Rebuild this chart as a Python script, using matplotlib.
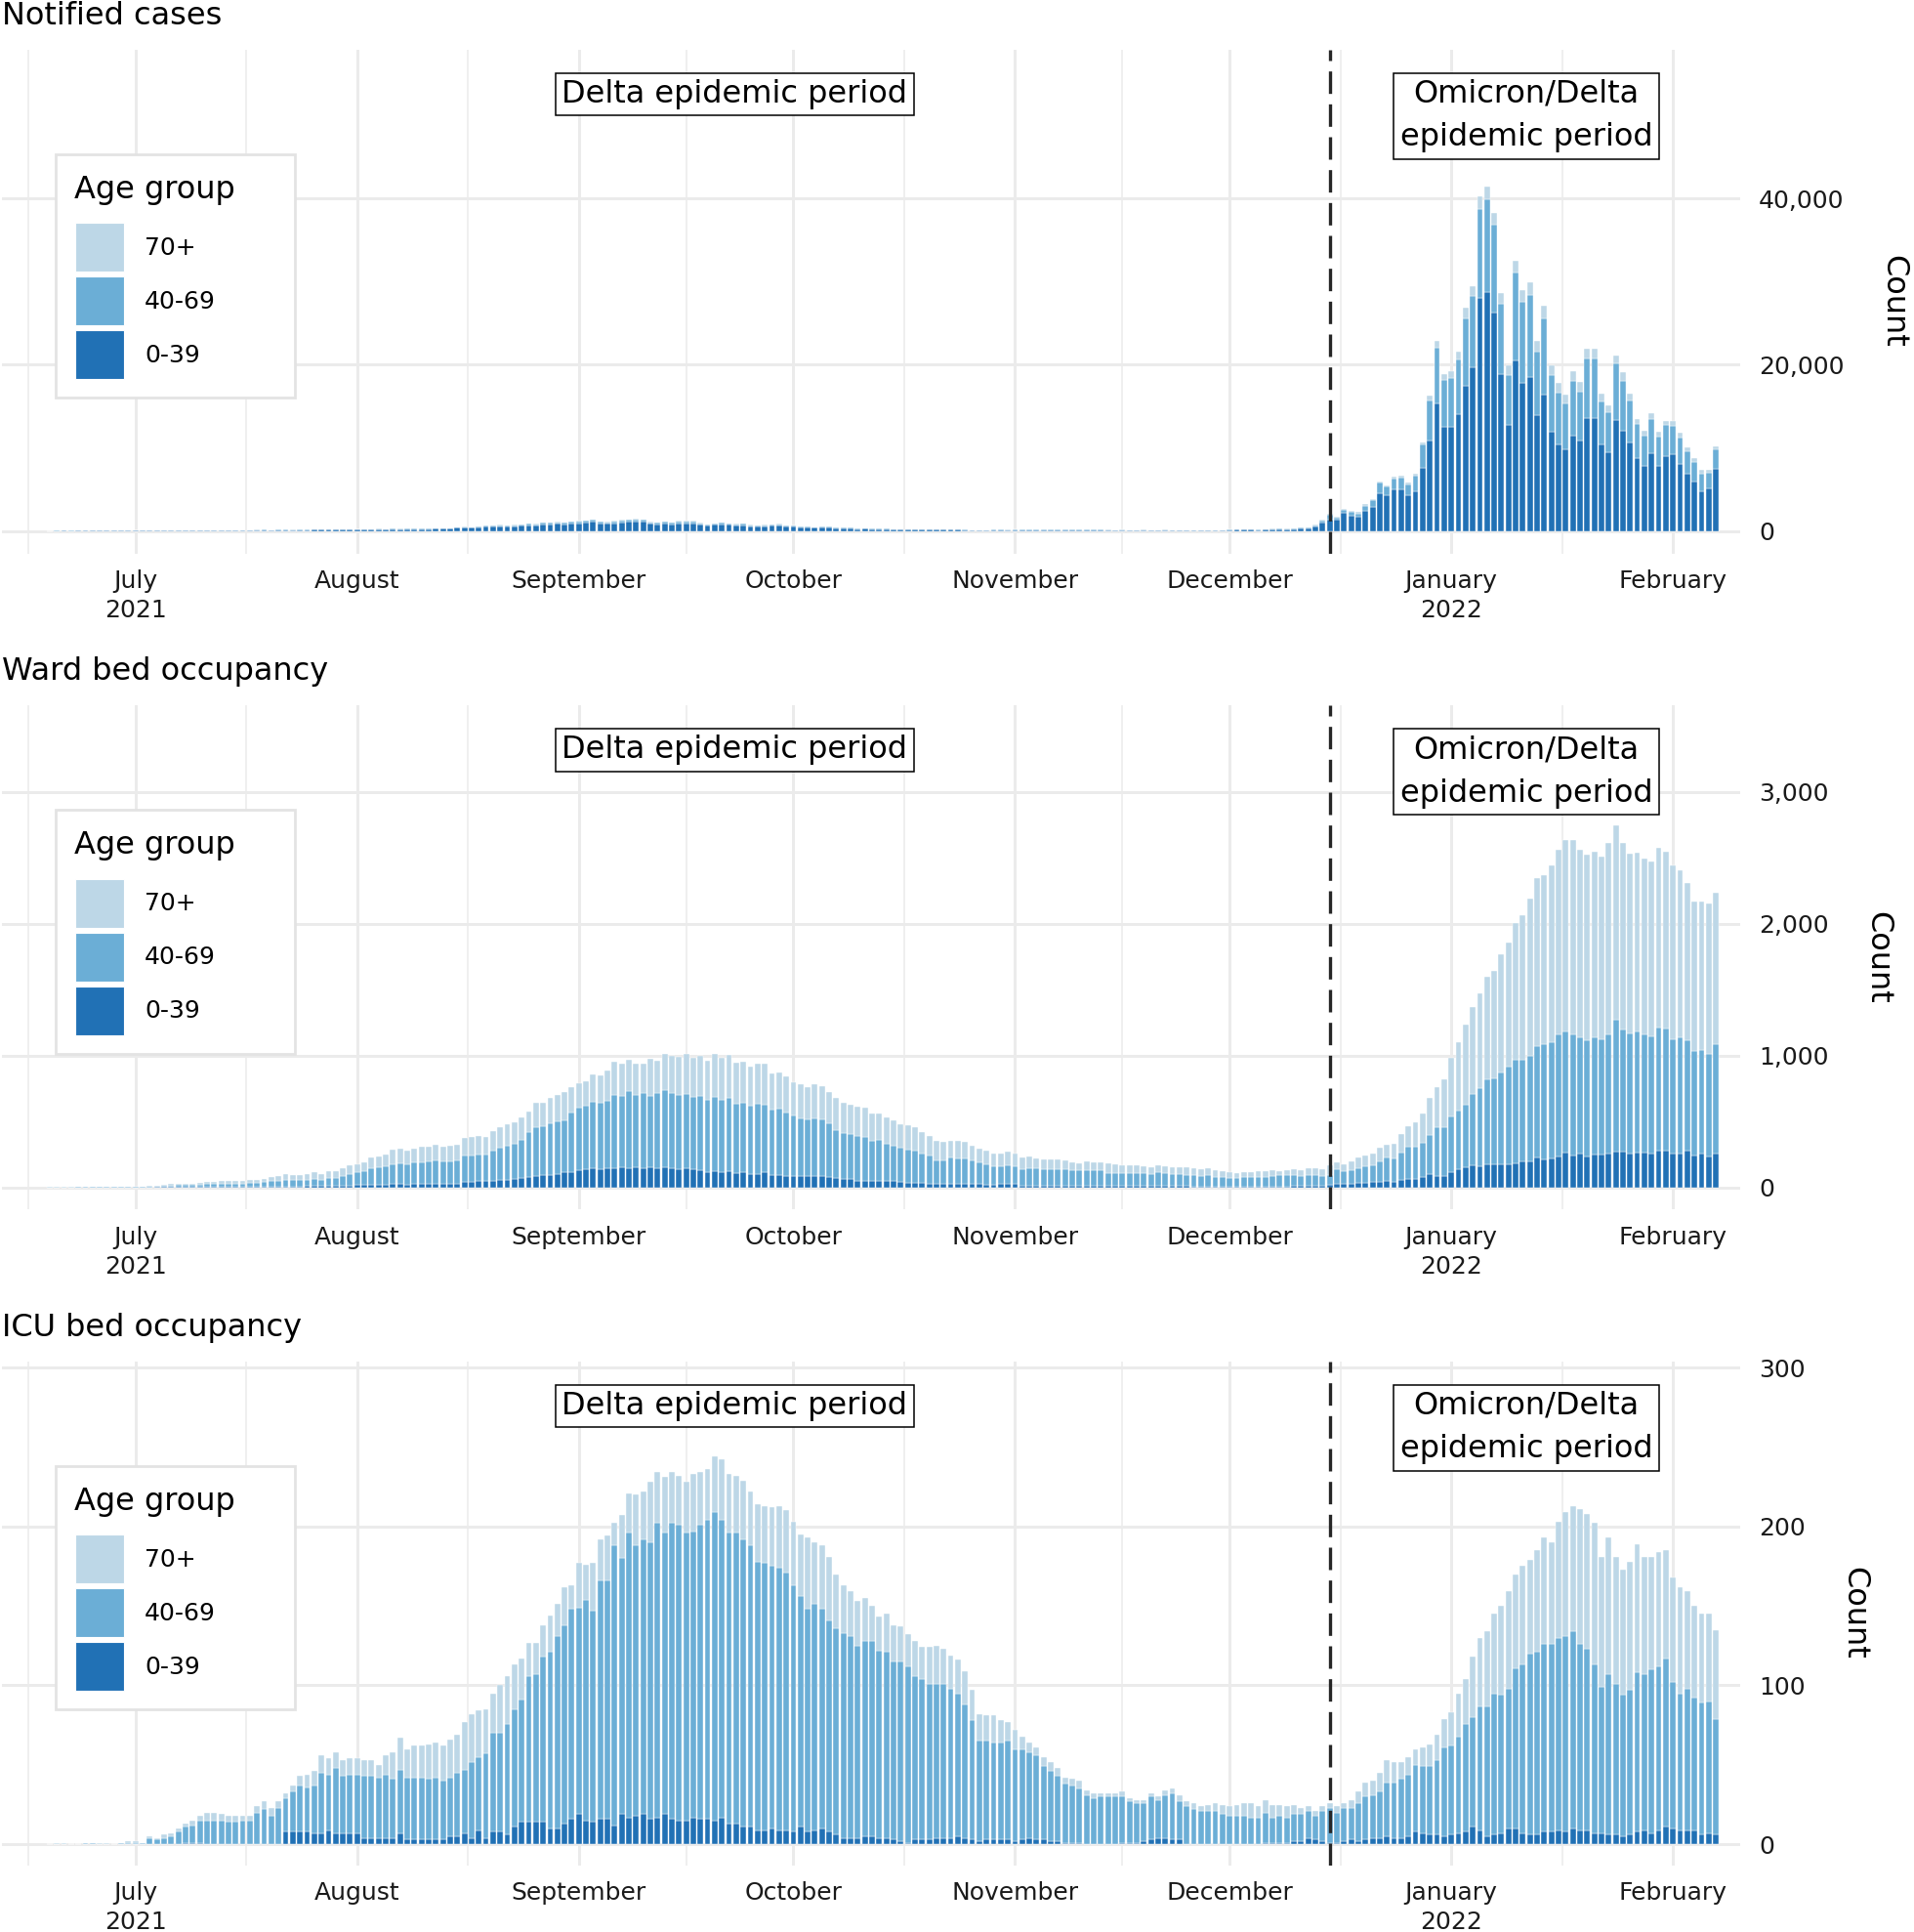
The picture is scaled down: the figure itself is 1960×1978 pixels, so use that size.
import numpy as np
import pandas as pd
import matplotlib
matplotlib.use("Agg")
import matplotlib.pyplot as plt
import matplotlib.dates as mdates
from matplotlib.patches import Patch, Rectangle
from matplotlib.transforms import blended_transform_factory

# ---------------- data ----------------
first_day = "2021-06-19"
last_day = "2022-02-07"
period_split = "2021-12-15"

age_groups = ["70+", "40-69", "0-39"]
group_colors = ["#BDD7E7", "#6BAED6", "#2171B5"]

month_ticks = ["2021-07-01", "2021-08-01", "2021-09-01", "2021-10-01", "2021-11-01",
               "2021-12-01", "2022-01-01", "2022-02-01"]
month_labels = ["July\n2021", "August", "September", "October", "November",
                "December", "January\n2022", "February"]

# --- Notified cases ---
notified_total = [
    10, 15, 20, 15, 25, 30, 20, 25, 30, 40, 30, 25,
    30, 35, 40, 45, 50, 45, 50, 60, 70,
    80, 90, 100, 90, 110, 100, 120, 110,
    130, 140, 120, 150, 140, 130, 160, 150, 170,
    200, 180, 170, 190, 210, 200,
    230, 240, 250, 240, 260, 250, 270,
    300, 310, 290, 320, 330, 350,
    470, 500,
    470, 550, 660, 660, 740, 660, 740, 820, 900, 860,
    1010, 1010, 1090, 1010, 1130, 1210, 1250, 1400, 1130, 1090,
    1210, 1330, 1370, 1450, 1370, 1090, 1050, 1130, 1050, 1210,
    1210, 1210, 970, 820, 940, 1010, 940, 860, 900, 740,
    700, 740, 820, 860, 700, 700, 550, 510, 470, 510,
    550, 430, 390, 390, 310, 350, 310, 310, 270, 230,
    190, 200, 230, 230, 200, 200, 220, 180, 170, 150,
    120, 100, 110, 140, 150, 130, 150, 160, 140, 150,
    160, 150, 140, 160, 150, 140, 150, 160, 150, 130,
    120, 130, 120, 120, 130, 110, 120, 130, 120, 100,
    110, 100, 90, 100, 110, 100, 160, 180, 170, 190,
    150, 220, 250, 260, 250, 260,
    470, 470, 750, 1330, 2040, 1720, 2700, 2420, 2270, 3200,
    3870, 5980, 5510, 6490, 6650, 5830, 6840, 10660, 16290, 22850,
    18820, 19220, 21520, 26840, 29460, 40200, 41400, 38210, 28560, 19880,
    32470, 28990, 29950, 22820, 27070, 19920, 17810, 16360, 19210, 17970,
    21870, 21950, 16480, 15110, 21100, 19110, 16560, 13510, 12060, 14140,
    11880, 13240, 13210, 11800, 10040, 8750, 7300, 7300, 10120,
]
notified_70plus = [
    1, 1, 2, 1, 2, 3, 2, 2, 3, 4, 3, 2,
    3, 3, 4, 4, 5, 4, 5, 5, 6,
    6, 7, 7, 6, 8, 7, 8, 7,
    8, 9, 7, 9, 8, 7, 9, 8, 9,
    10, 9, 8, 9, 10, 9,
    10, 10, 11, 10, 11, 10, 11,
    12, 13, 12, 13, 13, 14,
    19, 20,
    19, 22, 26, 26, 30, 26, 30, 33, 36, 34,
    40, 40, 44, 40, 45, 48, 50, 56, 45, 44,
    48, 53, 55, 58, 55, 44, 42, 45, 42, 48,
    48, 48, 39, 33, 38, 40, 38, 34, 36, 30,
    28, 30, 33, 34, 28, 28, 22, 20, 19, 20,
    22, 17, 16, 16, 12, 14, 12, 12, 11, 9,
    8, 8, 9, 9, 8, 8, 9, 7, 7, 6,
    5, 4, 4, 6, 6, 5, 6, 6, 6, 6,
    6, 6, 6, 6, 6, 6, 6, 6, 6, 5,
    5, 5, 5, 5, 5, 4, 5, 5, 5, 4,
    4, 4, 4, 4, 4, 4, 6, 7, 7, 8,
    6, 9, 10, 10, 10, 10,
    40, 40, 40, 120, 120, 160, 200, 160, 160, 160,
    200, 200, 200, 160, 200, 200, 200, 310, 590, 780,
    620, 820, 900, 1250, 1250, 1450, 1480, 1410, 1210, 1130,
    1410, 1450, 1520, 1250, 1480, 1210, 1210, 1050, 1130, 1170,
    1170, 1250, 860, 780, 980, 1020, 900, 660, 620, 700,
    550, 510, 550, 550, 470, 470, 390, 270, 350,
]
notified_0_39 = [
    7, 11, 15, 11, 19, 23, 15, 19, 23, 31, 23, 19,
    23, 27, 31, 35, 39, 35, 39, 47, 55,
    62, 70, 78, 70, 86, 78, 94, 86,
    101, 109, 94, 117, 109, 101, 125, 117, 133,
    156, 140, 133, 148, 164, 156,
    179, 187, 195, 187, 203, 195, 211,
    234, 242, 226, 250, 257, 273,
    367, 390,
    367, 429, 515, 515, 577, 515, 577, 640, 702, 671,
    788, 788, 850, 788, 881, 944, 975, 1092, 881, 850,
    944, 1037, 1069, 1131, 1069, 850, 819, 881, 819, 944,
    944, 944, 757, 640, 733, 788, 733, 671, 702, 577,
    546, 577, 640, 671, 546, 546, 429, 398, 367, 398,
    429, 335, 304, 304, 242, 273, 242, 242, 211, 179,
    148, 156, 179, 179, 156, 156, 172, 140, 133, 117,
    94, 78, 86, 109, 117, 101, 117, 125, 109, 117,
    125, 117, 109, 125, 117, 109, 117, 125, 117, 101,
    94, 101, 94, 94, 101, 86, 94, 101, 94, 78,
    86, 78, 70, 78, 86, 78, 125, 140, 133, 148,
    117, 172, 195, 203, 195, 203,
    350, 350, 590, 1050, 1330, 1330, 2150, 1870, 1720, 2420,
    2930, 4490, 4260, 4960, 5000, 4300, 4730, 7580, 10900, 15390,
    12540, 12540, 14100, 17500, 19690, 28010, 28750, 26250, 18870, 12730,
    20510, 17850, 18510, 13910, 16410, 11950, 10430, 9800, 11440, 10820,
    13630, 13630, 10350, 9490, 13320, 12070, 10660, 8710, 7770, 9300,
    7810, 9020, 9180, 8050, 6840, 5900, 4800, 5120, 7500,
]

# --- Ward bed occupancy ---
ward_total = [
    3, 3, 4, 4, 5, 5, 6, 6, 7, 8, 8, 9,
    10, 10, 12, 17, 22, 27, 32, 32, 32, 35, 42,
    45, 50, 52, 54, 54, 57, 59, 67, 84, 89,
    104, 99, 97, 106, 116, 106, 126, 126, 149, 171,
    178, 193, 230, 235, 250, 290, 299, 280, 299, 309,
    309, 324, 309, 314, 322, 374, 384, 389, 386, 428,
    455, 480, 495, 530, 579, 641, 644, 681, 700, 723,
    762, 792, 809, 859, 851, 889, 953, 938, 968, 943, 938, 980, 963,
    1017, 1002, 995, 1012, 983, 997, 965, 1017, 988, 1007,
    950, 953, 918, 938, 938, 866, 874, 842, 799, 782,
    762, 785, 767, 725, 681, 646, 631, 611, 606, 564,
    564, 530, 510, 478, 470, 455, 423, 394, 356, 344,
    356, 356, 344, 314, 295, 280, 257, 257, 270, 257,
    228, 235, 220, 213, 215, 213, 208, 188, 183, 198,
    193, 193, 181, 176, 168, 166, 168, 161, 158, 168,
    161, 158, 158, 153, 146, 141, 146, 129, 126, 114,
    111, 119, 121, 126, 124, 129, 124, 129, 141, 131, 146,
    148, 143, 168, 193, 178, 200, 227, 244, 262, 301,
    328, 333, 405, 467, 494, 560, 681, 760, 820, 983,
    1106, 1239, 1368, 1471, 1600, 1644, 1773, 1862, 2010, 2064,
    2192, 2348, 2370, 2444, 2563, 2634, 2634, 2560, 2523, 2546,
    2511, 2612, 2748, 2612, 2533, 2538, 2496, 2471, 2580, 2550,
    2442, 2405, 2313, 2173, 2168, 2153, 2239,
]
ward_70plus = [
    2, 2, 2, 2, 2, 2, 3, 3, 3, 3, 3, 4,
    4, 4, 5, 7, 9, 11, 13, 13, 13, 14, 17,
    18, 20, 21, 22, 22, 23, 24, 27, 34, 38,
    45, 43, 42, 46, 50, 45, 52, 52, 60, 65,
    62, 66, 80, 82, 90, 111, 112, 105, 110, 114,
    113, 118, 112, 114, 116, 134, 137, 139, 136, 151,
    155, 160, 160, 165, 161, 180, 178, 190, 200, 210,
    195, 186, 186, 210, 210, 228, 250, 243, 238, 238, 220, 285, 248,
    277, 287, 290, 304, 297, 302, 299, 327, 322, 327,
    314, 312, 297, 304, 307, 277, 277, 270, 252, 260,
    245, 257, 250, 240, 243, 233, 223, 218, 220, 210,
    205, 196, 191, 178, 181, 173, 161, 149, 146, 139,
    131, 136, 126, 111, 106, 101, 92, 92, 104, 97,
    87, 87, 72, 72, 74, 72, 69, 59, 54, 64,
    64, 62, 69, 64, 59, 57, 59, 54, 52, 54,
    54, 57, 57, 54, 52, 54, 52, 47, 45, 40,
    37, 42, 40, 45, 40, 42, 32, 37, 47, 40, 50,
    49, 54, 74, 54, 54, 64, 79, 84, 89, 101,
    96, 109, 141, 158, 183, 217, 281, 304, 360, 444,
    521, 610, 659, 716, 780, 815, 899, 948, 1039, 1094,
    1190, 1272, 1281, 1343, 1402, 1452, 1472, 1422, 1402, 1405,
    1388, 1447, 1476, 1412, 1365, 1355, 1333, 1321, 1365, 1346,
    1316, 1267, 1195, 1138, 1123, 1136, 1148,
]
ward_0_39 = [
    0, 0, 1, 1, 1, 1, 1, 1, 1, 2, 2, 2,
    2, 2, 2, 3, 3, 3, 4, 4, 4, 4, 5,
    5, 5, 5, 6, 6, 6, 6, 7, 7, 8,
    10, 10, 10, 11, 12, 11, 12, 12, 13, 14,
    18, 20, 22, 22, 24, 25, 25, 24, 25, 26,
    26, 27, 26, 27, 28, 40, 45, 50, 52, 54,
    56, 60, 62, 72, 80, 90, 92, 99, 105, 115,
    120, 134, 138, 145, 140, 146, 150, 152, 150, 151, 150, 155, 150,
    151, 146, 139, 146, 141, 131, 119, 124, 119, 124,
    109, 114, 104, 106, 114, 92, 92, 89, 89, 89,
    89, 89, 87, 79, 72, 62, 62, 50, 52, 50,
    50, 50, 50, 40, 37, 37, 35, 30, 27, 27,
    32, 30, 30, 30, 27, 22, 22, 25, 25, 25,
    15, 17, 15, 15, 17, 15, 15, 12, 12, 12,
    12, 12, 12, 12, 12, 12, 12, 12, 12, 12,
    12, 12, 12, 12, 10, 10, 10, 10, 10, 8,
    8, 8, 8, 8, 8, 8, 8, 8, 12, 12, 15,
    15, 15, 20, 30, 25, 30, 35, 37, 40, 44,
    49, 44, 57, 62, 69, 77, 104, 91, 91, 121,
    138, 156, 173, 160, 178, 178, 178, 178, 185, 200,
    202, 230, 215, 222, 239, 264, 244, 259, 237, 249,
    254, 262, 272, 274, 262, 264, 264, 257, 281, 277,
    257, 257, 284, 244, 257, 239, 259,
]

# --- ICU bed occupancy ---
icu_total = [
    0, 1, 1, 0, 0, 1, 1, 1, 1, 0, 1, 2, 2, 1,
    5, 4, 6, 7, 10, 13, 15, 18, 20,
    20, 19, 18, 18, 18, 18, 24, 27, 23, 27,
    32, 37, 43, 44, 46, 56, 54, 58, 53, 54,
    54, 53, 53, 50, 56, 58, 67, 60, 62, 62,
    63, 64, 62, 66, 69, 77, 82, 84, 85, 95,
    100, 106, 113, 117, 127, 127, 138, 144, 151, 162,
    163, 177, 176, 177, 192, 194, 202, 207, 221, 220, 222, 228, 234,
    231, 234, 232, 228, 233, 234, 236, 244, 242, 233,
    232, 229, 222, 214, 213, 212, 213, 210, 203, 195,
    193, 190, 188, 181, 170, 163, 159, 153, 155, 150,
    143, 145, 138, 137, 132, 128, 124, 124, 125, 123,
    119, 116, 109, 97, 82, 81, 81, 78, 77, 72,
    68, 64, 61, 55, 52, 48, 42, 41, 40, 34,
    32, 32, 32, 32, 33, 29, 28, 28, 32, 30,
    34, 35, 31, 27, 26, 24, 25, 26, 25, 24,
    25, 26, 26, 24, 28, 25, 25, 24, 25, 23, 24,
    21, 24, 26, 24, 26, 28, 33, 39, 40, 45,
    53, 52, 52, 55, 60, 61, 63, 69, 79, 83,
    95, 104, 118, 130, 134, 145, 150, 159, 170, 175,
    179, 185, 193, 190, 203, 209, 213, 211, 208, 202,
    181, 193, 181, 173, 178, 189, 181, 181, 184, 185,
    168, 162, 159, 150, 145, 145, 135,
]
icu_70plus = [
    0, 1, 1, 0, 0, 0, 0, 1, 1, 0, 0, 1, 1, 0,
    1, 1, 2, 2, 2, 2, 3, 3, 5,
    5, 4, 4, 4, 3, 3, 4, 5, 5, 4,
    3, 4, 6, 8, 9, 11, 10, 10, 10, 10,
    10, 10, 10, 8, 12, 17, 20, 18, 20, 20,
    22, 22, 22, 24, 24, 30, 30, 29, 28, 25,
    30, 30, 28, 26, 21, 20, 20, 23, 20, 24,
    15, 28, 22, 30, 26, 28, 14, 27, 25, 32, 30, 38, 32,
    35, 32, 31, 32, 36, 33, 32, 35, 38, 37,
    36, 37, 34, 36, 36, 37, 39, 39, 40, 39,
    45, 39, 40, 40, 34, 30, 28, 28, 27, 22,
    21, 24, 23, 22, 20, 22, 20, 23, 24, 22,
    21, 21, 21, 19, 17, 16, 17, 14, 12, 12,
    8, 6, 5, 6, 6, 5, 4, 4, 5, 3,
    3, 2, 2, 2, 3, 2, 2, 2, 2, 2,
    3, 3, 4, 3, 4, 3, 4, 5, 6, 6,
    7, 8, 9, 7, 8, 8, 7, 7, 6, 4, 3,
    3, 3, 3, 4, 3, 5, 7, 9, 9, 12,
    14, 13, 11, 11, 10, 12, 14, 16, 18, 21,
    27, 28, 38, 43, 47, 50, 56, 61, 59, 62,
    59, 64, 67, 64, 73, 78, 79, 85, 85, 89,
    82, 86, 80, 79, 81, 81, 74, 71, 72, 68,
    66, 67, 61, 58, 56, 55, 56,
]
icu_0_39 = [
    0, 0, 0, 0, 0, 0, 0, 0, 0, 0, 0, 0, 0, 0,
    0, 0, 0, 0, 0, 1, 1, 1, 0,
    0, 0, 0, 0, 0, 0, 0, 0, 0, 0,
    8, 8, 8, 8, 7, 7, 9, 7, 7, 7,
    7, 4, 4, 4, 4, 4, 7, 3, 3, 3,
    3, 3, 3, 5, 5, 7, 4, 9, 4, 8,
    8, 6, 11, 14, 14, 14, 14, 10, 10, 13,
    16, 19, 15, 14, 16, 16, 12, 19, 17, 18, 19, 16, 17,
    19, 16, 15, 15, 17, 16, 16, 15, 17, 13,
    13, 11, 11, 9, 9, 10, 9, 9, 8, 11,
    8, 9, 10, 8, 6, 4, 4, 4, 5, 5,
    4, 4, 3, 2, 1, 3, 3, 3, 4, 4,
    4, 5, 4, 3, 2, 3, 3, 3, 3, 2,
    3, 4, 3, 3, 2, 2, 1, 1, 1, 0,
    0, 0, 0, 0, 1, 1, 1, 2, 3, 4,
    4, 3, 3, 0, 0, 0, 0, 0, 0, 0,
    0, 0, 0, 0, 1, 1, 1, 1, 2, 2, 4,
    3, 2, 1, 1, 2, 3, 2, 3, 4, 4,
    5, 4, 4, 5, 8, 7, 6, 6, 5, 6,
    7, 8, 11, 9, 5, 6, 7, 10, 10, 7,
    6, 6, 8, 8, 9, 8, 10, 9, 9, 7,
    7, 6, 6, 5, 6, 8, 9, 7, 9, 11,
    10, 9, 9, 9, 6, 7, 6,
]

panel_titles = ["Notified cases", "Ward bed occupancy", "ICU bed occupancy"]
panel_yticks = [[0, 20000, 40000], [0, 1000, 2000, 3000], [0, 100, 200, 300]]
panel_ylims = [(-2690, 57910), (-164, 3659), (-13.1, 304.0)]

period_labels = ["Delta epidemic period", "Omicron/Delta\nepidemic period"]

# ---------------- figure ----------------
W, H = 1960, 1978
fig = plt.figure(figsize=(W / 100, H / 100), dpi=100)

dates = pd.date_range(first_day, last_day, freq="D")
x = mdates.date2num(dates)
for lst in (notified_total, notified_70plus, notified_0_39, ward_total, ward_70plus,
            ward_0_39, icu_total, icu_70plus, icu_0_39):
    assert len(lst) == len(x), len(lst)

x_jul1 = mdates.date2num(pd.Timestamp("2021-07-01"))
xlim = (x_jul1 - 18.67, x_jul1 + 224.4)
major = mdates.date2num(pd.to_datetime(month_ticks))
all_months = mdates.date2num(pd.date_range("2021-06-01", "2022-03-01", freq="MS"))
minor = (all_months[:-1] + all_months[1:]) / 2.0
minor = minor[(minor > xlim[0]) & (minor < xlim[1])]

panels = [
    (notified_total, notified_70plus, notified_0_39),
    (ward_total, ward_70plus, ward_0_39),
    (icu_total, icu_70plus, icu_0_39),
]

left_px, right_px = 2.0, 1782.0
panel_tops = [50.5, 722.0, 1393.5]
panel_h = 516.0
grid_col = "#EBEBEB"
text_col = "#1A1A1A"

for i, (tot, old, young) in enumerate(panels):
    top = panel_tops[i]
    ax = fig.add_axes([left_px / W, 1 - (top + panel_h) / H,
                       (right_px - left_px) / W, panel_h / H])
    tot = np.array(tot, float)
    old = np.array(old, float)
    young = np.array(young, float)
    mid = np.clip(tot - old - young, 0, None)

    bar_kw = dict(width=0.8, edgecolor="white", linewidth=0.3, zorder=2)
    ax.bar(x, young, color=group_colors[2], **bar_kw)
    ax.bar(x, mid, bottom=young, color=group_colors[1], **bar_kw)
    ax.bar(x, old, bottom=young + mid, color=group_colors[0], **bar_kw)

    ax.set_xticks(major)
    ax.set_xticklabels(month_labels)
    ax.set_xticks(minor, minor=True)
    ax.set_yticks(panel_yticks[i])
    ax.set_yticklabels([f"{v:,}" for v in panel_yticks[i]])
    ax.set_xlim(*xlim)
    ax.set_ylim(*panel_ylims[i])
    ax.yaxis.tick_right()
    ax.yaxis.set_label_position("right")
    ax.set_ylabel("Count", rotation=270, fontsize=23, labelpad=25, va="bottom",
                  color="black")
    ax.tick_params(axis="both", which="both", length=0)
    ax.tick_params(axis="x", which="major", labelsize=18, pad=12, colors=text_col)
    ax.tick_params(axis="y", which="major", labelsize=18, pad=13.7, colors=text_col)
    for lab in ax.get_xticklabels():
        lab.set_linespacing(1.32)
    for s in ax.spines.values():
        s.set_visible(False)
    ax.set_axisbelow(True)
    ax.grid(which="major", axis="both", color=grid_col, linewidth=2.1, zorder=0)
    ax.grid(which="minor", axis="x", color=grid_col, linewidth=1.1, zorder=0)

    ax.set_title(panel_titles[i], loc="left", fontsize=23, pad=18.4, color="black")

    # split between periods
    ax.axvline(mdates.date2num(pd.Timestamp(period_split)), color="#262626",
               linewidth=2.4, linestyle=(0, (6.9, 3.2)), zorder=4)

    # period labels
    trans = blended_transform_factory(ax.transData, ax.transAxes)
    ax.text(x_jul1 + 83.8, 0.9109, period_labels[0], transform=trans, ha="center",
            va="center", fontsize=23, color="black", zorder=6,
            bbox=dict(boxstyle="square,pad=0.2", facecolor="white",
                      edgecolor="black", linewidth=1.1))
    ax.text(x_jul1 + 194.5, 0.868, period_labels[1], transform=trans, ha="center",
            va="center", fontsize=23, color="black", zorder=6, linespacing=1.56,
            multialignment="center",
            bbox=dict(boxstyle="square,pad=0.2", facecolor="white",
                      edgecolor="black", linewidth=1.1))

    # legend
    frame = Rectangle((0.0309, 0.3091), 0.1685 - 0.0309, 0.7917 - 0.3091,
                      transform=ax.transAxes, facecolor="white",
                      edgecolor="#E3E3E3", linewidth=2.0, zorder=5)
    ax.add_patch(frame)
    ax.text(0.0416, 0.7045, "Age group", transform=ax.transAxes, fontsize=23,
            ha="left", va="baseline", color="black", zorder=7)
    handles = [Patch(facecolor=c, edgecolor="white", linewidth=0.8) for c in group_colors]
    leg = ax.legend(handles, age_groups, loc="upper left",
                    bbox_to_anchor=(0.0423, 0.656), bbox_transform=ax.transAxes,
                    frameon=False, borderpad=0, borderaxespad=0,
                    handlelength=2.0, handleheight=2.7, handletextpad=0.83,
                    labelspacing=0.2, fontsize=18)
    leg.set_zorder(8)

fig.savefig("out.png", dpi=100)
